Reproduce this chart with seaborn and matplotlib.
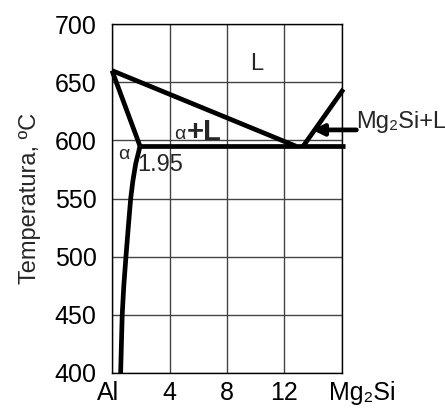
import matplotlib
matplotlib.use("Agg")
import matplotlib.pyplot as plt
import matplotlib.transforms as mtransforms
import seaborn as sns
import pandas as pd

# ---- data ----
liq_al_x = [0.0, 12.8]
liq_al_t = [660, 595]
solidus_x = [0.0, 1.95]
solidus_t = [660, 595]
solvus_x = [1.95, 1.65, 1.45, 1.30, 1.13, 0.97, 0.82, 0.71, 0.60]
solvus_t = [595, 580, 565, 550, 525, 500, 475, 450, 400]
eut_x = [1.95, 16.2]
eut_t = [595, 595]
liq_mg_x = [13.3, 16.1]
liq_mg_t = [595, 644]

x_ticks = [0, 4, 8, 12, 16]
x_labels = ["Al", "4", "8", "12", "Mg₂Si"]
y_ticks = [400, 450, 500, 550, 600, 650, 700]

sns.set_style("whitegrid")
plt.rcParams['font.family'] = ['Liberation Sans', 'DejaVu Sans']

fig = plt.figure(figsize=(4.45, 4.08), dpi=100)
ax = fig.add_axes([0.2517, 0.0858, 0.7685 - 0.2517, 0.941 - 0.0858])

segments = [
    (liq_al_x, liq_al_t),
    (solidus_x, solidus_t),
    (solvus_x, solvus_t),
    (eut_x, eut_t),
    (liq_mg_x, liq_mg_t),
]
for xs, ts in segments:
    df = pd.DataFrame({"x": xs, "t": ts})
    sns.lineplot(data=df, x="x", y="t", sort=False, ax=ax, color="black",
                 linewidth=3.4, clip_on=False, solid_capstyle="butt")

ax.set_xlim(0, 16)
ax.set_ylim(400, 700)
ax.set_xticks(x_ticks)
ax.set_xticklabels(x_labels)
ax.set_yticks(y_ticks)
ax.tick_params(axis='both', length=0, labelsize=18, colors='black')
ax.tick_params(axis='y', pad=11)
ax.tick_params(axis='x', pad=6)
ax.set_xlabel("")
ax.set_ylabel("Temperatura, ºC", fontsize=17, labelpad=10)
ax.grid(True, color="#444444", linewidth=1.0)
for s in ax.spines.values():
    s.set_color("black")
    s.set_linewidth(1.0)
    s.set_visible(True)

# shift the end x tick labels as in the reference
lbls = ax.get_xticklabels()
lbls[-1].set_transform(lbls[-1].get_transform() +
                       mtransforms.ScaledTranslation(0.2, 0, fig.dpi_scale_trans))
lbls[0].set_transform(lbls[0].get_transform() +
                      mtransforms.ScaledTranslation(-0.04, 0, fig.dpi_scale_trans))

# annotations
ax.text(10.1, 666, "L", fontsize=17, ha="center", va="center")
ax.text(4.35, 605, "α", fontsize=14, ha="left", va="center")
ax.text(5.2, 607, "+L", fontsize=21, fontweight="bold", ha="left", va="center")
ax.text(0.45, 588, "α", fontsize=14, ha="left", va="center")
ax.text(1.75, 579, "1.95", fontsize=17, ha="left", va="center")
ax.annotate("", xy=(13.95, 609), xytext=(17.0, 609),
            arrowprops=dict(arrowstyle="-|>", color="black", lw=3.4,
                            mutation_scale=16, shrinkA=0, shrinkB=0),
            annotation_clip=False)
ax.text(17.0, 616, "Mg₂Si+L", fontsize=17, ha="left", va="center")

fig.savefig("out.png", dpi=100)
